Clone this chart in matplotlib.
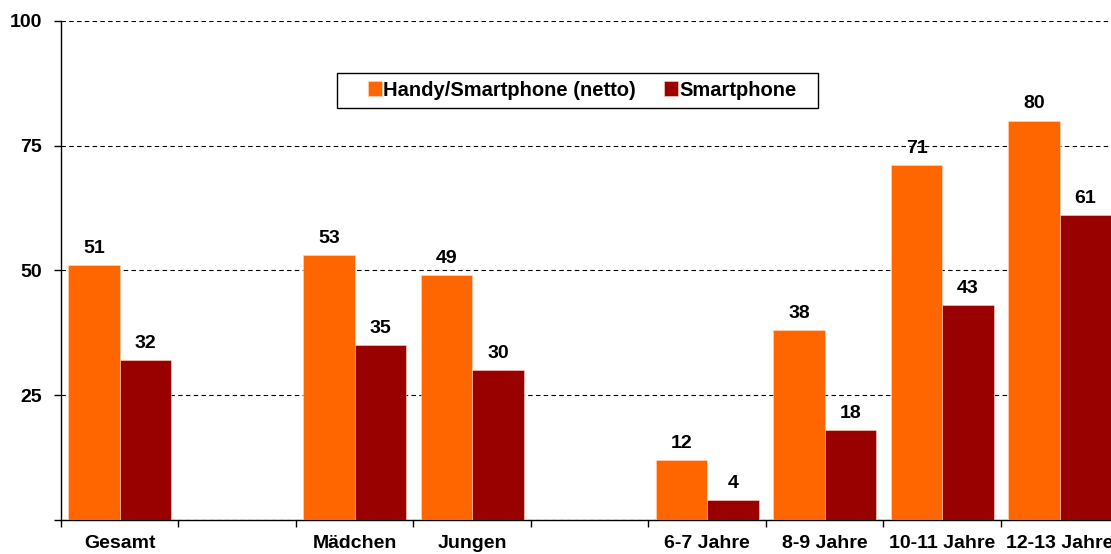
import matplotlib.pyplot as plt
from matplotlib.patches import Rectangle
import numpy as np

plt.rcParams['font.family'] = ['Liberation Sans', 'DejaVu Sans']

# data (empty slots are the gaps between the groups)
categories = ['Gesamt', '', 'Mädchen', 'Jungen', '', '6-7 Jahre', '8-9 Jahre', '10-11 Jahre', '12-13 Jahre']
netto = [51, None, 53, 49, None, 12, 38, 71, 80]
smart = [32, None, 35, 30, None, 4, 18, 43, 61]
series_names = ['Handy/Smartphone (netto)', 'Smartphone']
colors = ['#FF6600', '#990000']

fig = plt.figure(figsize=(11.11, 5.54), dpi=100)
ax = fig.add_axes([61/1111, 1-520/554, 1057.5/1111, 499.3/554])

x = np.arange(len(categories))
w = 0.437
for i, (vals, name, c) in enumerate(zip([netto, smart], series_names, colors)):
    idx = [k for k, v in enumerate(vals) if v is not None]
    v = [vals[k] for k in idx]
    off = -w/2 if i == 0 else w/2
    bars = ax.bar(x[idx] + off, v, w, color=c, label=name, edgecolor='#ffd9c0', linewidth=0.4, zorder=3)
    ax.bar_label(bars, padding=6, fontsize=14, fontweight='bold')

ax.set_xlim(-0.5, len(categories) - 0.5)
ax.set_ylim(0, 100)
ax.set_yticks([0, 25, 50, 75, 100])
ax.set_yticklabels(['', '25', '50', '75', '100'], fontsize=14, fontweight='bold')
ax.yaxis.grid(True, color='black', linestyle=(0, (4, 3)), linewidth=0.8, zorder=0)
ax.tick_params(axis='y', length=5, width=1, pad=8.5)

ax.set_xticks(x)
ax.set_xticklabels(categories, fontsize=14, fontweight='bold')
ax.tick_params(axis='x', which='major', length=0, pad=10.5)
ax.set_xticks(np.arange(len(categories) + 1) - 0.5, minor=True)
ax.tick_params(axis='x', which='minor', length=5, width=1)

for s in ['top', 'right']:
    ax.spines[s].set_visible(False)
ax.spines['left'].set_linewidth(1)
ax.spines['bottom'].set_linewidth(1)

# legend box drawn by hand, entries placed inside it
fig.patches.append(Rectangle((337/1111, 1-107.7/554), 481/1111, 35/554, transform=fig.transFigure,
                             fill=False, edgecolor='black', linewidth=1))
fig.legend(loc='center left', bbox_to_anchor=(368/1111, 1-90/554), ncol=2, frameon=False,
           prop={'size': 14.5, 'weight': 'bold'}, handlelength=0.7, handleheight=0.7,
           handletextpad=0.05, columnspacing=1.4, borderpad=0, borderaxespad=0)

fig.savefig('out.png', dpi=100)
